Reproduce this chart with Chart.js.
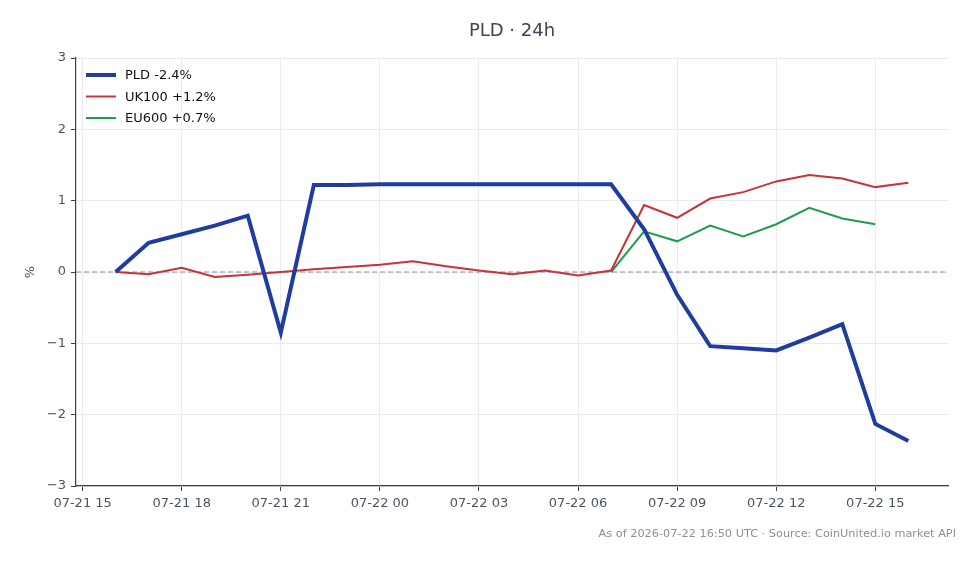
<!DOCTYPE html>
<html>
<head>
<meta charset="utf-8">
<script src="https://cdn.jsdelivr.net/npm/chart.js@4.4.1/dist/chart.umd.min.js"></script>
<style>
  body { margin: 0; background: #fff; }
  canvas { display: block; }
</style>
</head>
<body>
<canvas id="pldChart" width="980" height="564"></canvas>
<script>
// hours since 07-21 00:00 UTC
const hours = [16, 17, 18, 19, 20, 21, 22, 23, 24, 25, 26, 27, 28, 29, 30, 31, 32, 33, 34, 35, 36, 37, 38, 39, 40];
const pld = [0, 0.41, 0.53, 0.65, 0.79, -0.85, 1.22, 1.22, 1.23, 1.23, 1.23, 1.23, 1.23, 1.23, 1.23, 1.23, 0.6, -0.32, -1.04, -1.07, -1.10, -0.92, -0.73, -2.13, -2.37];
const uk100 = [0.0, -0.03, 0.06, -0.07, -0.04, 0.0, 0.04, 0.07, 0.10, 0.15, 0.08, 0.02, -0.03, 0.02, -0.05, 0.02, 0.94, 0.76, 1.03, 1.12, 1.27, 1.36, 1.31, 1.19, 1.25];
const eu600 = [null, null, null, null, null, null, null, null, null, null, null, null, null, null, null, 0.0, 0.57, 0.43, 0.65, 0.50, 0.67, 0.90, 0.75, 0.67, null];
const xTicks = [15, 18, 21, 24, 27, 30, 33, 36, 39];
const yTicks = [-3, -2, -1, 0, 1, 2, 3];

const seriesNames = ["PLD -2.4%", "UK100 +1.2%", "EU600 +0.7%"];
const seriesColors = ["#1f3d9e", "#c8323a", "#1f9d4f"];
const seriesWidths = [4, 2, 2];

const FONT = "'DejaVu Sans', sans-serif";

function pts(vals) {
  return hours.map((h, i) => ({ x: h, y: vals[i] }));
}

function hourLabel(v) {
  const day = v >= 24 ? "07-22" : "07-21";
  const h = v % 24;
  return day + " " + String(h).padStart(2, "0");
}

// dashed zero line, legend in plot, title, y label, footer
const extras = {
  id: "extras",
  beforeDatasetsDraw(chart) {
    const { ctx, chartArea, scales } = chart;
    const y0 = scales.y.getPixelForValue(0);
    ctx.save();
    ctx.strokeStyle = "#8a94a6";
    ctx.lineWidth = 1;
    ctx.setLineDash([5, 3]);
    ctx.beginPath();
    ctx.moveTo(chartArea.left, y0);
    ctx.lineTo(chartArea.right, y0);
    ctx.stroke();
    ctx.restore();
  },
  afterDraw(chart) {
    const { ctx, chartArea } = chart;
    ctx.save();
    // title
    ctx.fillStyle = "#3b4656";
    ctx.font = "18px " + FONT;
    ctx.textAlign = "center";
    ctx.textBaseline = "middle";
    ctx.fillText("PLD · 24h", (chartArea.left + chartArea.right) / 2, 31);
    // y label
    ctx.save();
    ctx.translate(31, (chartArea.top + chartArea.bottom) / 2);
    ctx.rotate(-Math.PI / 2);
    ctx.font = "13px " + FONT;
    ctx.fillStyle = "#4b5563";
    ctx.fillText("%", 0, 0);
    ctx.restore();
    // legend
    ctx.font = "13px " + FONT;
    ctx.textAlign = "left";
    for (let i = 0; i < seriesNames.length; i++) {
      const y = 75 + i * 21.5;
      ctx.strokeStyle = seriesColors[i];
      ctx.lineWidth = seriesWidths[i];
      ctx.beginPath();
      ctx.moveTo(86, y);
      ctx.lineTo(116, y);
      ctx.stroke();
      ctx.fillStyle = "#111";
      ctx.fillText(seriesNames[i], 125, y + 1);
    }
    // footer
    ctx.font = "11.3px " + FONT;
    ctx.fillStyle = "#8a8f98";
    ctx.textAlign = "right";
    ctx.fillText("As of 2026-07-22 16:50 UTC · Source: CoinUnited.io market API", 956, 534);
    ctx.restore();
  },
};

new Chart(document.getElementById("pldChart"), {
  type: "line",
  data: {
    datasets: [
      { label: seriesNames[0], data: pts(pld), borderColor: seriesColors[0], borderWidth: seriesWidths[0] },
      { label: seriesNames[1], data: pts(uk100), borderColor: seriesColors[1], borderWidth: seriesWidths[1] },
      { label: seriesNames[2], data: pts(eu600), borderColor: seriesColors[2], borderWidth: seriesWidths[2] },
    ],
  },
  options: {
    responsive: false,
    animation: false,
    spanGaps: false,
    elements: {
      point: { radius: 0 },
      line: { tension: 0, borderJoinStyle: "miter", borderCapStyle: "butt" },
    },
    layout: { padding: { top: 58, right: 32, left: 0, bottom: 0 } },
    plugins: {
      legend: { display: false },
      title: { display: false },
      tooltip: { enabled: false },
    },
    scales: {
      x: {
        type: "linear",
        min: 14.8,
        max: 41.2,
        afterBuildTicks: (s) => { s.ticks = xTicks.map((v) => ({ value: v })); },
        afterFit: (s) => { s.height = 78; },
        ticks: {
          callback: (v) => hourLabel(v),
          color: "#4b5563",
          font: { family: FONT, size: 13 },
          maxRotation: 0,
          autoSkip: false,
          padding: 5,
        },
        grid: { color: "#e9ebf0", tickColor: "#374151", tickLength: 5 },
        border: { color: "#374151", width: 1.2 },
      },
      y: {
        min: -3,
        max: 3,
        afterBuildTicks: (s) => { s.ticks = yTicks.map((v) => ({ value: v })); },
        afterFit: (s) => { s.width = 76; },
        ticks: {
          callback: (v) => String(v).replace("-", "\u2212"),
          color: "#4b5563",
          font: { family: FONT, size: 13 },
          padding: 5,
        },
        grid: { color: "#e9ebf0", tickColor: "#374151", tickLength: 5 },
        border: { color: "#374151", width: 1.2 },
      },
    },
  },
  plugins: [extras],
});
</script>
</body>
</html>
